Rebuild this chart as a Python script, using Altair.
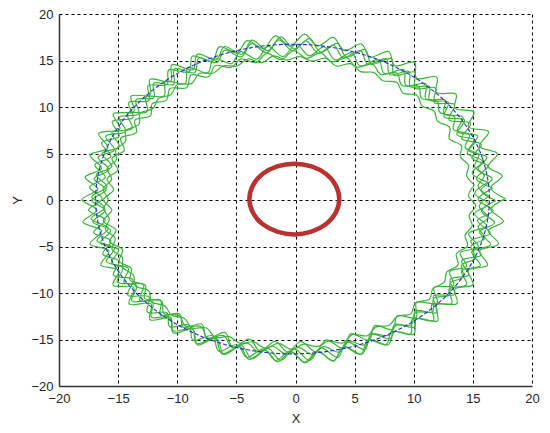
import altair as alt
import pandas as pd
import numpy as np

# ---- data ----
# red inner circle (x, y)
red_x = [3.70, 3.41, 2.59, 1.35, -0.10, -1.55, -2.79, -3.61, -3.90, -3.61, -2.79, -1.55, -0.10, 1.35, 2.59, 3.41]
red_y = [0.10, 1.55, 2.79, 3.61, 3.90, 3.61, 2.79, 1.55, 0.10, -1.35, -2.59, -3.41, -3.70, -3.41, -2.59, -1.35]

# blue reference orbit (x, y)
blue_x = [16.40, 15.83, 14.17, 11.52, 8.08, 4.06, -0.25, -4.56, -8.58, -12.02, -14.67, -16.33,
          -16.90, -16.33, -14.67, -12.02, -8.58, -4.56, -0.25, 4.06, 8.08, 11.52, 14.17, 15.83]
blue_y = [0.10, 4.41, 8.43, 11.87, 14.52, 16.18, 16.75, 16.18, 14.52, 11.87, 8.43, 4.41,
          0.10, -4.21, -8.23, -11.67, -14.32, -15.98, -16.55, -15.98, -14.32, -11.67, -8.23, -4.21]

# green trajectory: polar readings (angle in degrees, radius) for each revolution
green_angles = [0, 4, 8, 12, 16, 20, 24, 28, 32, 36, 40, 44, 48, 52, 56, 60, 64, 68, 72, 76,
                80, 84, 88, 92, 96, 100, 104, 108, 112, 116, 120, 124, 128, 132, 136, 140, 144, 148, 152, 156,
                160, 164, 168, 172, 176, 180, 184, 188, 192, 196, 200, 204, 208, 212, 216, 220, 224, 228, 232, 236,
                240, 244, 248, 252, 256, 260, 264, 268, 272, 276, 280, 284, 288, 292, 296, 300, 304, 308, 312, 316,
                320, 324, 328, 332, 336, 340, 344, 348, 352, 356]
green_phase = [0.0, 4.0, 1.3, 5.3, 2.7, 6.7]
# centre of each revolution (x, y)
green_cx = [0.15, -0.65, -0.15, -0.45, 0.05, -0.55]
green_cy = [0.15, 0.05, -0.45, 0.35, -0.35, -0.25]
green_r1 = [17.6, 16.4, 17.5, 16.5, 17.6, 16.4, 17.7, 16.4, 17.6, 16.5,
            17.5, 16.4, 17.6, 16.4, 17.7, 16.5, 17.6, 16.4, 17.5, 16.4,
            17.6, 16.5, 17.7, 16.4, 17.6, 16.4, 17.5, 16.5, 17.6, 16.4,
            17.7, 16.4, 17.6, 16.5, 17.5, 16.4, 17.6, 16.4, 17.7, 16.5,
            17.6, 16.4, 17.5, 16.4, 17.6, 16.5, 17.7, 16.4, 17.6, 16.4,
            17.5, 16.5, 17.6, 16.4, 17.7, 16.4, 17.6, 16.5, 17.5, 16.4,
            17.6, 16.4, 17.7, 16.5, 17.6, 16.4, 17.5, 16.4, 17.6, 16.5,
            17.7, 16.4, 17.6, 16.4, 17.5, 16.5, 17.6, 16.4, 17.7, 16.4,
            17.6, 16.5, 17.5, 16.4, 17.6, 16.4, 17.7, 16.5, 17.6, 16.4]
green_r2 = [17.4, 16.1, 17.3, 16.2, 17.4, 16.1, 17.5, 16.1, 17.4, 16.2,
            17.3, 16.1, 17.4, 16.1, 17.5, 16.2, 17.4, 16.1, 17.3, 16.1,
            17.4, 16.2, 17.5, 16.1, 17.4, 16.1, 17.3, 16.2, 17.4, 16.1,
            17.5, 16.1, 17.4, 16.2, 17.3, 16.1, 17.4, 16.1, 17.5, 16.2,
            17.4, 16.1, 17.3, 16.1, 17.4, 16.2, 17.5, 16.1, 17.4, 16.1,
            17.3, 16.2, 17.4, 16.1, 17.5, 16.1, 17.4, 16.2, 17.3, 16.1,
            17.4, 16.1, 17.5, 16.2, 17.4, 16.1, 17.3, 16.1, 17.4, 16.2,
            17.5, 16.1, 17.4, 16.1, 17.3, 16.2, 17.4, 16.1, 17.5, 16.1,
            17.4, 16.2, 17.3, 16.1, 17.4, 16.1, 17.5, 16.2, 17.4, 16.1]
green_r3 = [17.1, 15.9, 17.0, 16.0, 17.1, 15.9, 17.2, 15.9, 17.1, 16.0,
            17.0, 15.9, 17.1, 15.9, 17.2, 16.0, 17.1, 15.9, 17.0, 15.9,
            17.1, 16.0, 17.2, 15.9, 17.1, 15.9, 17.0, 16.0, 17.1, 15.9,
            17.2, 15.9, 17.1, 16.0, 17.0, 15.9, 17.1, 15.9, 17.2, 16.0,
            17.1, 15.9, 17.0, 15.9, 17.1, 16.0, 17.2, 15.9, 17.1, 15.9,
            17.0, 16.0, 17.1, 15.9, 17.2, 15.9, 17.1, 16.0, 17.0, 15.9,
            17.1, 15.9, 17.2, 16.0, 17.1, 15.9, 17.0, 15.9, 17.1, 16.0,
            17.2, 15.9, 17.1, 15.9, 17.0, 16.0, 17.1, 15.9, 17.2, 15.9,
            17.1, 16.0, 17.0, 15.9, 17.1, 15.9, 17.2, 16.0, 17.1, 15.9]
green_r4 = [16.8, 15.6, 16.7, 15.7, 16.8, 15.6, 16.9, 15.6, 16.8, 15.7,
            16.7, 15.6, 16.8, 15.6, 16.9, 15.7, 16.8, 15.6, 16.7, 15.6,
            16.8, 15.7, 16.9, 15.6, 16.8, 15.6, 16.7, 15.7, 16.8, 15.6,
            16.9, 15.6, 16.8, 15.7, 16.7, 15.6, 16.8, 15.6, 16.9, 15.7,
            16.8, 15.6, 16.7, 15.6, 16.8, 15.7, 16.9, 15.6, 16.8, 15.6,
            16.7, 15.7, 16.8, 15.6, 16.9, 15.6, 16.8, 15.7, 16.7, 15.6,
            16.8, 15.6, 16.9, 15.7, 16.8, 15.6, 16.7, 15.6, 16.8, 15.7,
            16.9, 15.6, 16.8, 15.6, 16.7, 15.7, 16.8, 15.6, 16.9, 15.6,
            16.8, 15.7, 16.7, 15.6, 16.8, 15.6, 16.9, 15.7, 16.8, 15.6]
green_r5 = [16.3, 15.5, 16.2, 15.6, 16.3, 15.5, 16.4, 15.5, 16.3, 15.6,
            16.2, 15.5, 16.3, 15.5, 16.4, 15.6, 16.3, 15.5, 16.2, 15.5,
            16.3, 15.6, 16.4, 15.5, 16.3, 15.5, 16.2, 15.6, 16.3, 15.5,
            16.4, 15.5, 16.3, 15.6, 16.2, 15.5, 16.3, 15.5, 16.4, 15.6,
            16.3, 15.5, 16.2, 15.5, 16.3, 15.6, 16.4, 15.5, 16.3, 15.5,
            16.2, 15.6, 16.3, 15.5, 16.4, 15.5, 16.3, 15.6, 16.2, 15.5,
            16.3, 15.5, 16.4, 15.6, 16.3, 15.5, 16.2, 15.5, 16.3, 15.6,
            16.4, 15.5, 16.3, 15.5, 16.2, 15.6, 16.3, 15.5, 16.4, 15.5,
            16.3, 15.6, 16.2, 15.5, 16.3, 15.5, 16.4, 15.6, 16.3, 15.5]
green_r6 = [15.8, 15.3, 15.7, 15.3, 15.8, 15.2, 15.8, 15.3, 15.7, 15.3,
            15.8, 15.2, 15.8, 15.3, 15.7, 15.3, 15.8, 15.2, 15.8, 15.3,
            15.7, 15.3, 15.8, 15.2, 15.8, 15.3, 15.7, 15.3, 15.8, 15.2,
            15.8, 15.3, 15.7, 15.3, 15.8, 15.2, 15.8, 15.3, 15.7, 15.3,
            15.8, 15.2, 15.8, 15.3, 15.7, 15.3, 15.8, 15.2, 15.8, 15.3,
            15.7, 15.3, 15.8, 15.2, 15.8, 15.3, 15.7, 15.3, 15.8, 15.2,
            15.8, 15.3, 15.7, 15.3, 15.8, 15.2, 15.8, 15.3, 15.7, 15.3,
            15.8, 15.2, 15.8, 15.3, 15.7, 15.3, 15.8, 15.2, 15.8, 15.3,
            15.7, 15.3, 15.8, 15.2, 15.8, 15.3, 15.7, 15.3, 15.8, 15.2]
green_radii = [green_r1, green_r2, green_r3, green_r4, green_r5, green_r6]

axis_ticks = [-20, -15, -10, -5, 0, 5, 10, 15, 20]

# ---- tables ----
red_df = pd.DataFrame({"x": red_x, "y": red_y, "o": list(range(len(red_x)))})
blue_df = pd.DataFrame({"x": blue_x, "y": blue_y, "o": list(range(len(blue_x)))})

rows = []
for s, (radii, ph, cx, cy) in enumerate(zip(green_radii, green_phase, green_cx, green_cy)):
    pts = list(zip(green_angles, radii)) + [(360, radii[0])]
    for i, (a, r) in enumerate(pts):
        t = np.deg2rad(a + ph)
        rows.append({"s": s, "o": i,
                     "x": cx + r * np.cos(t),
                     "y": cy + r * np.sin(t)})
green_df = pd.DataFrame(rows)

xs = alt.Scale(domain=[-20, 20], nice=False, zero=False)
ys = alt.Scale(domain=[-20, 20], nice=False, zero=False)
xa = alt.Axis(values=axis_ticks, title="X", labelFlush=False)
ya = alt.Axis(values=axis_ticks, title="Y", labelFlush=False)

green = alt.Chart(green_df).mark_line(color="#3cb43c", strokeWidth=1.2,
                                      interpolate="cardinal").encode(
    x=alt.X("x:Q", scale=xs, axis=xa),
    y=alt.Y("y:Q", scale=ys, axis=ya),
    detail="s:N",
    order="o:Q",
)
blue = alt.Chart(blue_df).mark_line(color="#2828d0", strokeWidth=1.1, strokeDash=[4, 2],
                                    interpolate="cardinal-closed").encode(
    x=alt.X("x:Q", scale=xs), y=alt.Y("y:Q", scale=ys), order="o:Q")
red = alt.Chart(red_df).mark_line(color="#b93232", strokeWidth=4.5,
                                  interpolate="cardinal-closed").encode(
    x=alt.X("x:Q", scale=xs), y=alt.Y("y:Q", scale=ys), order="o:Q")

chart = alt.layer(green, blue, red).properties(
    width=473, height=372,
    autosize=alt.AutoSizeParams(type="none"),
    padding={"left": 51, "top": 6, "right": 10, "bottom": 40},
).configure_view(stroke=None).configure_axis(
    grid=True, gridColor="#000000", gridOpacity=1, gridDash=[3, 3], gridWidth=1,
    domainColor="#333333", domainWidth=1.5, ticks=False,
    labelFont="Liberation Sans", labelFontSize=13, labelColor="#262626",
    titleFont="Liberation Sans", titleFontSize=13, titleColor="#262626",
    titleFontWeight="normal", labelPadding=6,
).configure_axisX(titlePadding=7).configure_axisY(titlePadding=6, labelPadding=6)

chart.save("out.html", embed_options={"renderer": "svg", "actions": False})
